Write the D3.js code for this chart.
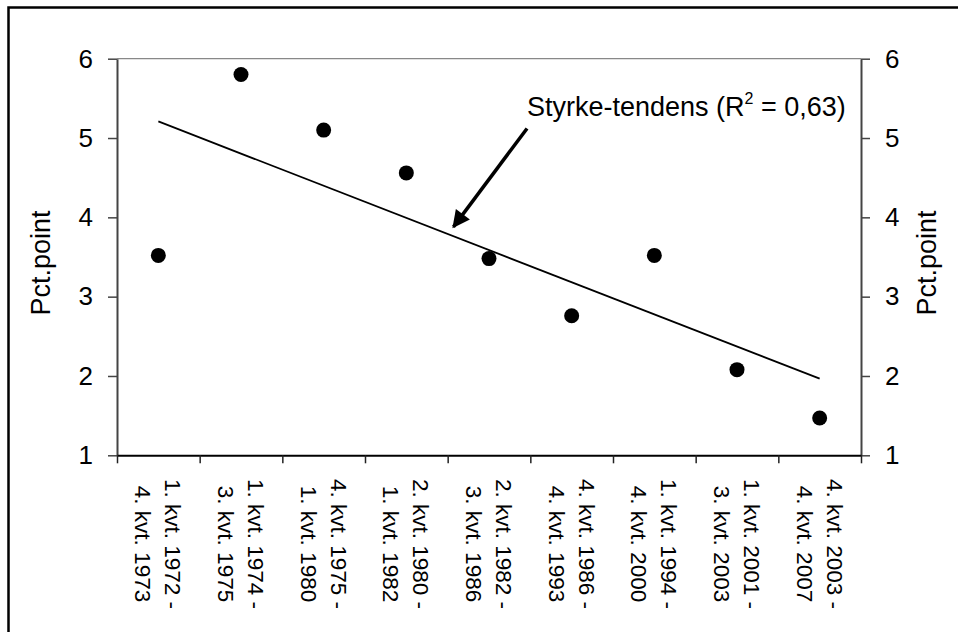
<!DOCTYPE html>
<html>
<head>
<meta charset="utf-8">
<script src="https://cdn.jsdelivr.net/npm/d3@7"></script>
<style>
  body { margin: 0; background: #fff; }
  svg { display: block; font-family: "Liberation Sans", Arial, sans-serif; }
</style>
</head>
<body>
<svg width="958" height="632"></svg>
<script>
// periods (two lines each) and measured values
const periodStart = ['1. kvt. 1972 -', '1. kvt. 1974 -', '4. kvt. 1975 -', '2. kvt. 1980 -', '2. kvt. 1982 -',
                     '4. kvt. 1986 -', '1. kvt. 1994 -', '1. kvt. 2001 -', '4. kvt. 2003 -'];
const periodEnd = ['4. kvt. 1973', '3. kvt. 1975', '1. kvt. 1980', '1. kvt. 1982', '3. kvt. 1986',
                   '4. kvt. 1993', '4. kvt. 2000', '3. kvt. 2003', '4. kvt. 2007'];
const values = [3.52, 5.8, 5.1, 4.56, 3.48, 2.76, 3.52, 2.08, 1.47];
const yTicks = [1, 2, 3, 4, 5, 6];
const yTitle = 'Pct.point';

const plotL = 117, plotR = 861, plotT = 58.7, plotB = 455.3;

const svg = d3.select('svg');

// outer frame (runs off right and bottom edges)
svg.append('rect')
  .attr('x', 8.5).attr('y', 7.5)
  .attr('width', 1000).attr('height', 1000)
  .attr('fill', 'none').attr('stroke', '#000').attr('stroke-width', 2.5);

const x = d3.scaleLinear().domain([0, values.length]).range([plotL, plotR]);
const y = d3.scaleLinear().domain([1, 6]).range([plotB, plotT]);

// plot area top border
svg.append('line')
  .attr('x1', plotL).attr('x2', plotR).attr('y1', plotT).attr('y2', plotT)
  .attr('stroke', '#888').attr('stroke-width', 1.2);

// y axes
const yLeft = svg.append('g')
  .attr('transform', `translate(${plotL},0)`)
  .call(d3.axisLeft(y).tickValues(yTicks).tickFormat(d3.format('d'))
    .tickSize(9).tickSizeOuter(0).tickPadding(15));
const yRight = svg.append('g')
  .attr('transform', `translate(${plotR},0)`)
  .call(d3.axisRight(y).tickValues(yTicks).tickFormat(d3.format('d'))
    .tickSize(9).tickSizeOuter(0).tickPadding(15));

[yLeft, yRight].forEach(g => {
  g.select('.domain').attr('stroke', '#444').attr('stroke-width', 2);
  g.selectAll('.tick line').attr('stroke', '#444').attr('stroke-width', 1.5);
  g.selectAll('.tick text')
    .attr('font-family', '"Liberation Sans", Arial, sans-serif')
    .attr('font-size', 26).attr('fill', '#000');
});

// x axis: ticks between categories
const xAxis = svg.append('g')
  .attr('transform', `translate(0,${plotB})`)
  .call(d3.axisBottom(x).tickValues(d3.range(values.length + 1)).tickSize(8).tickSizeOuter(0).tickFormat(''));
xAxis.select('.domain').attr('stroke', '#000').attr('stroke-width', 2);
xAxis.selectAll('.tick line').attr('stroke', '#222').attr('stroke-width', 1.5);

// category labels, rotated
const lab = svg.append('g').selectAll('text')
  .data(periodStart)
  .join('text')
  .attr('transform', (d, i) => `translate(${x(i + 0.5)},544) rotate(90)`)
  .attr('text-anchor', 'middle')
  .attr('font-size', 22.5)
  .attr('fill', '#000');
lab.append('tspan').attr('x', 0).attr('y', -15).attr('dy', '0.35em').text(d => d);
lab.append('tspan').attr('x', 0).attr('y', 15).attr('dy', '0.35em').text((d, i) => periodEnd[i]);

// axis titles
[41, 926.5].forEach(cx => {
  svg.append('text')
    .attr('transform', `translate(${cx},263) rotate(-90)`)
    .attr('text-anchor', 'middle')
    .attr('dy', '0.35em')
    .attr('font-size', 27)
    .text(yTitle);
});

// linear trend from the data
const xs = values.map((v, i) => i + 0.5);
const mx = d3.mean(xs), my = d3.mean(values);
const slope = d3.sum(xs, (xi, i) => (xi - mx) * (values[i] - my)) / d3.sum(xs, xi => (xi - mx) ** 2);
const icpt = my - slope * mx;
const ends = [xs[0], xs[xs.length - 1]];
svg.append('line')
  .attr('x1', x(ends[0])).attr('y1', y(icpt + slope * ends[0]))
  .attr('x2', x(ends[1])).attr('y2', y(icpt + slope * ends[1]))
  .attr('stroke', '#000').attr('stroke-width', 1.8);

// points
svg.append('g').selectAll('circle')
  .data(values)
  .join('circle')
  .attr('cx', (d, i) => x(i + 0.5))
  .attr('cy', d => y(d))
  .attr('r', 7.5)
  .attr('fill', '#000');

// annotation with arrow
svg.append('defs').append('marker')
  .attr('id', 'arrow')
  .attr('viewBox', '0 0 10 10')
  .attr('refX', 9).attr('refY', 5)
  .attr('markerWidth', 6).attr('markerHeight', 5)
  .attr('markerUnits', 'strokeWidth')
  .attr('orient', 'auto')
  .append('path').attr('d', 'M0,0 L10,5 L0,10 Z').attr('fill', '#000');

svg.append('line')
  .attr('x1', x(4.96)).attr('y1', y(5.12))
  .attr('x2', x(4.07)).attr('y2', y(3.88))
  .attr('stroke', '#000').attr('stroke-width', 3.5)
  .attr('marker-end', 'url(#arrow)');

const note = svg.append('text')
  .attr('x', 527).attr('y', 116)
  .attr('font-size', 27)
  .attr('fill', '#000');
note.append('tspan').text('Styrke-tendens (R');
note.append('tspan').attr('font-size', 16).attr('dy', -12).text('2');
note.append('tspan').attr('dy', 12).text(' = 0,63)');
</script>
</body>
</html>
